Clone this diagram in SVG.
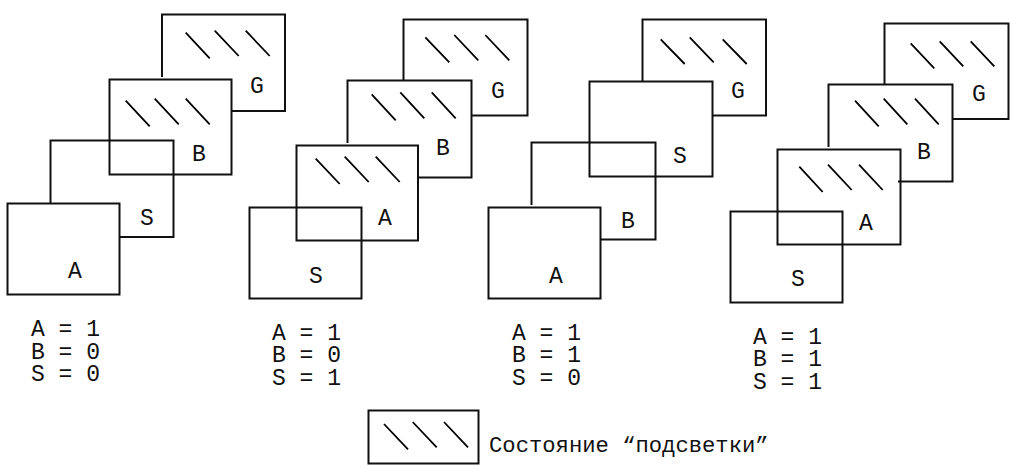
<svg xmlns="http://www.w3.org/2000/svg" width="1024" height="465" viewBox="0 0 1024 465">
<style>
.s{fill:none;stroke:#111;stroke-width:2;stroke-linejoin:miter}
.h{fill:none;stroke:#000;stroke-width:1.8}
text{font-family:"Liberation Mono",monospace;font-size:23px;fill:#111}
</style>
<rect width="1024" height="465" fill="#fff"/>
<g id="state1">
<path class="s" d="M162 77V14.500H285V111H232"/>
<rect class="s" x="109.500" y="79.500" width="122" height="95"/>
<path class="s" d="M50.500 203V140.500H173.500V237H120"/>
<rect class="s" x="7.500" y="203.500" width="112" height="91"/>
<path class="h" d="M185.700 32.700L209.700 58.300M214.700 30.700L238.700 56M245.700 30.700L269.700 56M125.700 100.700L149.700 126.300M154.700 98.700L178.700 124.300M185.700 98.700L209.700 124.300"/>
<text x="250" y="93">G</text><text x="192" y="161">B</text><text x="140" y="225">S</text><text x="68" y="278">A</text>
<text x="31" y="336">A = 1</text><text x="31" y="359">B = 0</text><text x="31" y="381">S = 0</text>
</g>
<g id="state2">
<path class="s" d="M403.500 80V19.500H527.500V115.500H472"/>
<path class="s" d="M347.500 143V80.500H471.500V177.500H417"/>
<rect class="s" x="296.500" y="145.500" width="121.500" height="95"/>
<rect class="s" x="249.500" y="207.500" width="112" height="91"/>
<path class="h" d="M425.300 37.300L449.300 62.300M454.300 35L478.300 60.300M485.300 35L509.300 60.300M371.700 94.300L395.700 120.300M400.300 92.300L424.300 118.300M431.700 92.300L455.700 118.300M315.700 158.700L339.700 184M344.700 156.700L368.700 182M375.700 156.700L399.700 182"/>
<text x="491" y="98">G</text><text x="436" y="155">B</text><text x="378" y="225">A</text><text x="309" y="283">S</text>
<text x="272" y="340">A = 1</text><text x="272" y="362">B = 0</text><text x="272" y="385">S = 1</text>
</g>
<g id="state3">
<path class="s" d="M642.500 81V19.500H766V115.500H712"/>
<rect class="s" x="589.500" y="81.500" width="123" height="95"/>
<path class="s" d="M531.500 205V142.500H655.500V239.500H601"/>
<rect class="s" x="488.500" y="207.500" width="112" height="91"/>
<path class="h" d="M660.700 39.300L684.700 64M689.700 37.300L713.700 62.300M722.700 39.300L746.700 64"/>
<text x="731" y="98">G</text><text x="673" y="163">S</text><text x="621" y="228">B</text><text x="549" y="283">A</text>
<text x="512" y="340">A = 1</text><text x="512" y="362">B = 1</text><text x="512" y="385">S = 0</text>
</g>
<g id="state4">
<path class="s" d="M884.500 84V23.500H1008.500V119H953"/>
<path class="s" d="M828.500 147V84.500H952.500V181.500H898"/>
<rect class="s" x="777.500" y="149.500" width="123" height="95"/>
<rect class="s" x="730.500" y="211.500" width="112" height="91"/>
<path class="h" d="M910.700 43.300L934.300 68.300M939.700 41.300L963.300 66.300M970.700 41.300L994.300 66.300M855 100.700L878.700 126.300M883.700 98.700L907.300 124.300M915 98.700L938.700 124.300M799.300 166.700L822.700 192M828 164.700L851.700 190M859 164.700L882.700 190"/>
<text x="972" y="101">G</text><text x="917" y="159">B</text><text x="859" y="230">A</text><text x="791" y="286">S</text>
<text x="753" y="344">A = 1</text><text x="753" y="366">B = 1</text><text x="753" y="389">S = 1</text>
</g>
<g id="legend">
<rect class="s" x="368.500" y="410.500" width="110" height="53"/>
<path class="h" d="M384 424L408 449.300M412.700 422L436.700 447.300M444 422L468 447.300"/>
<text x="489" y="452" style="font-size:22.2px">Состояние “подсветки”</text>
</g>
</svg>
